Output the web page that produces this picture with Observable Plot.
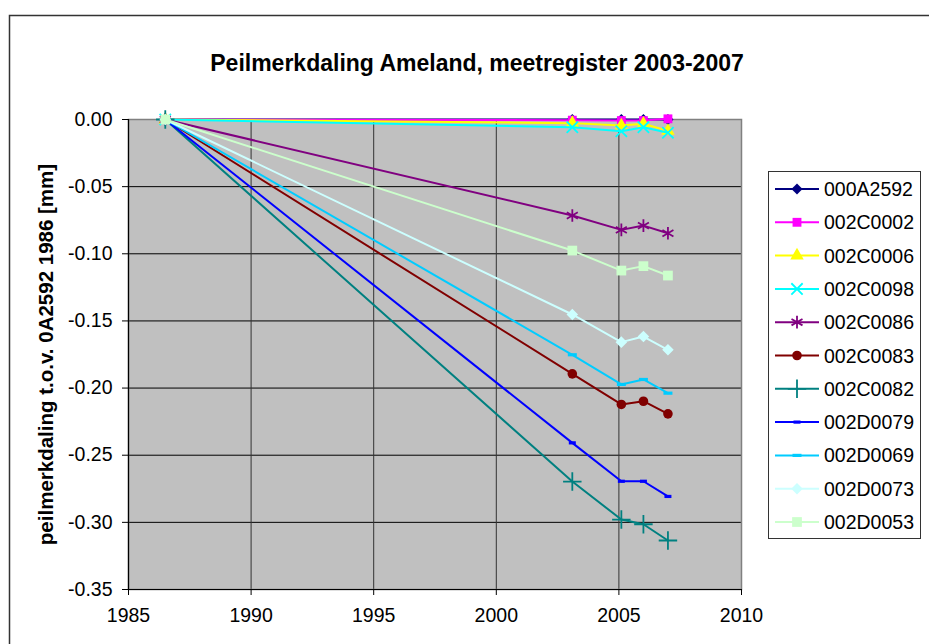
<!DOCTYPE html>
<html><head><meta charset="utf-8">
<script src="https://cdn.jsdelivr.net/npm/d3@7"></script>
<script src="https://cdn.jsdelivr.net/npm/@observablehq/plot@0.6"></script>
<style>
body{margin:0;background:#fff;}
#chart{position:relative;width:929px;height:644px;overflow:hidden;}
</style>
</head><body><div id="chart"></div>
<script>
// ---- data ----
const years = [1986.5, 2003.1, 2005.1, 2006.0, 2007.0];
const seriesNames = ["000A2592","002C0002","002C0006","002C0098","002C0086","002C0083","002C0082","002D0079","002D0069","002D0073","002D0053"];
const v000A2592 = [0, 0, 0, 0, 0];
const v002C0002 = [0, -0.0005, -0.0008, -0.0008, 0.0005];
const v002C0006 = [0, -0.0027, -0.0045, -0.0032, -0.0085];
const v002C0098 = [0, -0.0057, -0.0087, -0.0057, -0.0099];
const v002C0086 = [0, -0.0715, -0.0822, -0.0790, -0.0847];
const v002C0083 = [0, -0.1894, -0.2122, -0.2098, -0.2192];
const v002C0082 = [0, -0.2696, -0.2979, -0.3014, -0.3135];
const v002D0079 = [0, -0.2408, -0.2694, -0.2694, -0.2807];
const v002D0069 = [0, -0.1752, -0.1973, -0.1936, -0.2038];
const v002D0073 = [0, -0.1452, -0.1658, -0.1616, -0.1715];
const v002D0053 = [0, -0.0976, -0.1125, -0.1092, -0.1162];
const seriesValues = [v000A2592,v002C0002,v002C0006,v002C0098,v002C0086,v002C0083,v002C0082,v002D0079,v002D0069,v002D0073,v002D0053];
const xTicks = [1985, 1990, 1995, 2000, 2005, 2010];
const yTicks = [0, -0.05, -0.10, -0.15, -0.20, -0.25, -0.30, -0.35];
const titleText = "Peilmerkdaling Ameland, meetregister 2003-2007";
const yLabelText = "peilmerkdaling t.o.v. 0A2592 1986 [mm]";

// ---- styles ----
const colors = ["#000080","#FF00FF","#FFFF00","#00FFFF","#800080","#800000","#008080","#0000FF","#00CCFF","#CCFFFF","#CCFFCC"];
const dashSmall = {draw(ctx){ ctx.rect(-3.5,-1.6,7,3.2); }};
const dashLarge = {draw(ctx){ ctx.rect(-4.5,-1.6,9,3.2); }};
const symbols = [d3.symbolDiamond2, d3.symbolSquare, d3.symbolTriangle, d3.symbolTimes, d3.symbolAsterisk, d3.symbolCircle, d3.symbolPlus, dashSmall, dashLarge, d3.symbolDiamond2, d3.symbolSquare];
const radii = [5, 5, 5, 5.2, 6, 4.8, 6, 4, 4, 5.2, 5.5];
const filled = [true, true, true, false, false, true, false, true, true, true, true];

const rows = seriesNames.map((name, i) => years.map((x, j) => ({name, x, y: seriesValues[i][j]})));

const FONT = "'Liberation Sans', Arial, sans-serif";

const marks = [
  Plot.frame({fill: "#C0C0C0"}),
  Plot.gridY(yTicks, {stroke: "#000", strokeOpacity: 1, strokeWidth: 1}),
  Plot.gridX(xTicks, {stroke: "#333", strokeOpacity: 1, strokeWidth: 1}),
  Plot.frame({stroke: "#808080", strokeWidth: 1.5}),
  Plot.ruleX([1985], {stroke: "#000", strokeWidth: 1.2}),
  Plot.ruleY([-0.35], {stroke: "#000", strokeWidth: 1.2}),
  Plot.axisY({ticks: yTicks, tickFormat: d => (Math.abs(d) < 1e-9 ? 0 : d).toFixed(2), tickSize: 6, tickPadding: 10, fontSize: 19.5, label: null, stroke: "#000"}),
  Plot.axisX({ticks: xTicks, tickFormat: d => String(d), tickSize: 6, tickPadding: 13, fontSize: 19.5, label: null, stroke: "#000"}),
  Plot.text([yLabelText], {frameAnchor: "left", dx: -82, rotate: -90, fontWeight: "bold", fontSize: 20.5, fill: "#000", textAnchor: "middle"}),
  Plot.text([titleText], {frameAnchor: "top", dx: 42, dy: -56, fontWeight: "bold", fontSize: 23, fill: "#000", lineAnchor: "middle"})
];
rows.forEach((data, i) => {
  marks.push(Plot.line(data, {x: "x", y: "y", stroke: colors[i], strokeWidth: 2}));
  marks.push(Plot.dot(data, {x: "x", y: "y", symbol: symbols[i], r: radii[i],
    fill: filled[i] ? colors[i] : "none", stroke: colors[i], strokeWidth: filled[i] ? 0 : 1.8}));
});

const chart = Plot.plot({
  width: 929, height: 644,
  marginLeft: 128, marginRight: 188, marginTop: 119, marginBottom: 55,
  style: {fontFamily: FONT, background: "#fff", color: "#000", overflow: "visible"},
  x: {domain: [1985, 2010]},
  y: {domain: [-0.35, 0]},
  marks
});
document.getElementById("chart").appendChild(chart);

// outer chart border and legend
const svg = d3.select(chart);
svg.append("path").attr("d", "M9.5,650V15.5H935").attr("fill", "none").attr("stroke", "#333").attr("stroke-width", 1.5);
const lg = svg.append("g").attr("font-family", FONT).attr("font-size", 19.5).attr("text-anchor", "start");
lg.append("rect").attr("x", 768.5).attr("y", 171.5).attr("width", 152).attr("height", 367)
  .attr("fill", "#fff").attr("stroke", "#333").attr("stroke-width", 1);
seriesNames.forEach((n, i) => {
  const cy = 189 + i * 33.3;
  lg.append("line").attr("x1", 775).attr("x2", 819).attr("y1", cy).attr("y2", cy)
    .attr("stroke", colors[i]).attr("stroke-width", 2);
  lg.append("path").attr("transform", `translate(797,${cy})`)
    .attr("d", d3.symbol(symbols[i], Math.PI * radii[i] * radii[i])())
    .attr("fill", filled[i] ? colors[i] : "none").attr("stroke", filled[i] ? "none" : colors[i]).attr("stroke-width", 1.8);
  lg.append("text").attr("x", 824).attr("y", cy).attr("dy", "0.36em").attr("text-anchor", "start").attr("fill", "#000").text(n);
});
</script>
</body></html>
